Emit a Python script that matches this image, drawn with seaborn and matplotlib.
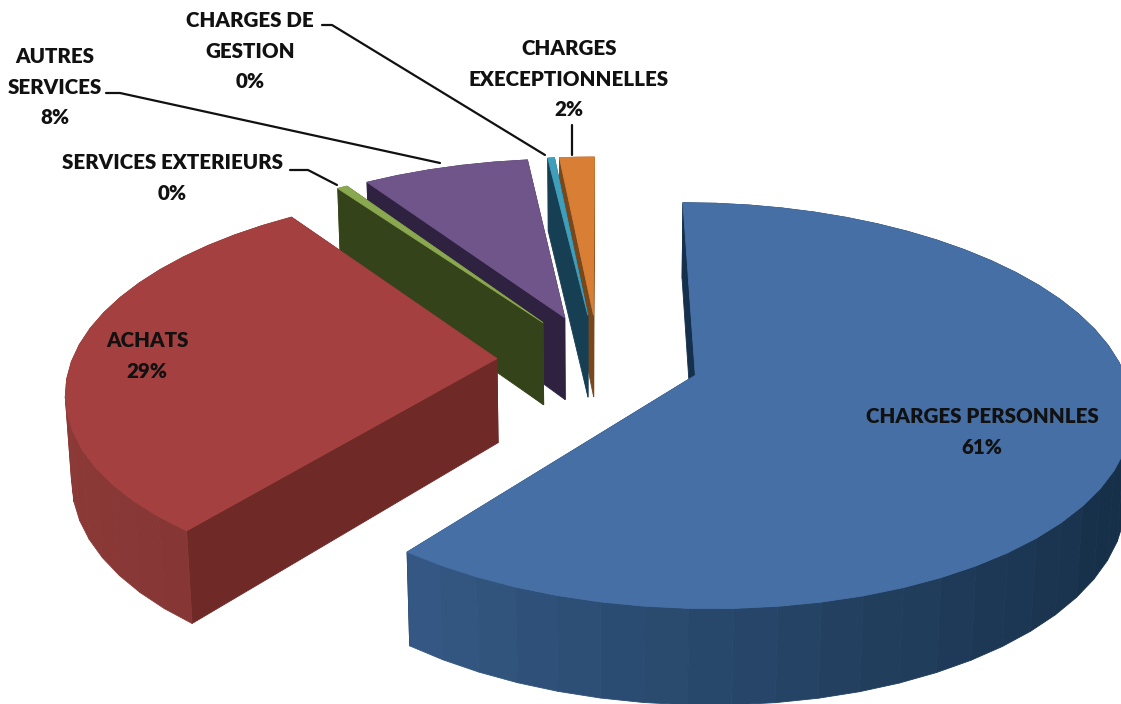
"""
Exploded 3D-style pie chart of charges, with perspective drawn by hand
"""

import numpy as np
import seaborn as sns
import matplotlib.pyplot as plt

# --- 1. DATA ---
names = ['CHARGES PERSONNLES', 'ACHATS', 'SERVICES EXTERIEURS',
         'AUTRES\nSERVICES', 'CHARGES DE\nGESTION',
         'CHARGES\nEXECEPTIONNELLES']
shares = [60.6, 29.7, 0.45, 7.4, 0.3, 1.55]
pct_labels = ['61%', '29%', '0%', '8%', '0%', '2%']

top_colors = ['#466fa5', '#a4403f', '#8aa84f', '#70558a', '#3f9fbb', '#d97f35']
cut_colors = ['#14304c', '#6f2a27', '#35431a', '#2f2140', '#173f54', '#7a471b']
wall_light = ['#365c88', '#8c3a38', '#5f7538', '#4e3b62', '#2b7086', '#a85f25']
wall_dark = ['#152c44', '#843634', '#4f6230', '#43335a', '#245f72', '#8f501f']

# --- 2. SETUP ---
START = 0.0       # degrees clockwise from 12 o'clock
EXPLODE = 0.239
CENTER = (-0.004, 0.082)
RADIUS_PX = 430
CX, CY = 600, 376
SQUASH = 0.462
PERSP = 0.15
PERSP_Z = 0.012
DEPTH = 0.2

sns.set_theme(style='white')
plt.rcParams['font.family'] = ['Lato', 'DejaVu Sans']

fig, ax = plt.subplots(figsize=(11.21, 7.04), dpi=100)
ax.set_position([0, 0, 1, 1])
ax.set_xlim(0, 1121)
ax.set_ylim(704, 0)
ax.axis('off')


def project(x, y, z):
    # pinhole style projection, z = 1 is the bottom of the pie
    w = 1 + PERSP * y + PERSP_Z * z
    return CX + RADIUS_PX * x / w, CY - RADIUS_PX * (SQUASH * y - DEPTH * z) / w


def face(xs, ys, zs, color, order):
    px, py = project(np.asarray(xs), np.asarray(ys), np.asarray(zs))
    ax.fill(px, py, color=color, lw=0.6, zorder=order)


# --- 3. SLICES ---
fractions = np.array(shares) / np.sum(shares) * 360
starts = START + np.concatenate([[0], np.cumsum(fractions)[:-1]])

apexes = []
for a0, frac in zip(starts, fractions):
    mid = np.radians(a0 + frac / 2)
    apexes.append((CENTER[0] + EXPLODE * np.sin(mid),
                   CENTER[1] + EXPLODE * np.cos(mid)))

# far slices first
draw_order = np.argsort([-a[1] for a in apexes])

for rank, i in enumerate(draw_order):
    ax0, ay0 = apexes[i]
    n_seg = max(2, int(fractions[i] / 5))
    theta = np.radians(np.linspace(starts[i], starts[i] + fractions[i], n_seg + 1))
    ex = ax0 + np.sin(theta)
    ey = ay0 + np.cos(theta)
    base = rank * 100

    # side faces, far ones drawn first
    sides = []
    # facet colour follows the screen direction, darker to the right
    shades = sns.blend_palette([wall_light[i], wall_dark[i]], 41)
    for k in range(n_seg):
        mx = np.sin((theta[k] + theta[k + 1]) / 2)
        if i == 0:
            t = np.clip((mx + 0.75) / 1.75, 0, 1)
        else:
            t = np.clip((-mx - 0.55) / 0.45, 0, 1)
            t = 1 - t if i == 1 else t
        sides.append(((ey[k] + ey[k + 1]) / 2,
                      [ex[k], ex[k + 1], ex[k + 1], ex[k]],
                      [ey[k], ey[k + 1], ey[k + 1], ey[k]],
                      shades[int(t * 40)]))
    for e in (0, -1):
        sides.append(((ay0 + ey[e]) / 2,
                      [ax0, ex[e], ex[e], ax0],
                      [ay0, ey[e], ey[e], ay0],
                      cut_colors[i]))
    sides.sort(key=lambda s: -s[0])
    for j, (_, sx, sy, col) in enumerate(sides):
        face(sx, sy, [0, 0, 1, 1], col, base + j * 0.1)

    # top surface
    face(np.r_[ax0, ex], np.r_[ay0, ey], np.zeros(n_seg + 2), top_colors[i], base + 50)

# --- 4. LABELS ---
font = dict(fontsize=14.8, fontweight='heavy', color='#111111', ha='center',
            va='center', linespacing=1.7, zorder=2000)
ax.text(982, 432, names[0] + '\n' + pct_labels[0], **font)
ax.text(147, 356, names[1] + '\n' + pct_labels[1], **font)
ax.text(172, 178, names[2] + '\n' + pct_labels[2], **font)
ax.text(55, 87, names[3] + '\n' + pct_labels[3], **font)
ax.text(250, 51, names[4] + '\n' + pct_labels[4], **font)
ax.text(569, 79, names[5] + '\n' + pct_labels[5], **font)

# leader lines
leaders = [([290, 308, 337], [170, 170, 185]),
           ([106, 120, 440], [93, 93, 163]),
           ([322, 332, 545], [25, 25, 155]),
           ([572, 572], [125, 155])]
for lx, ly in leaders:
    ax.plot(lx, ly, color='#111111', lw=1.6, zorder=1500)

fig.savefig('out.png', dpi=100)
